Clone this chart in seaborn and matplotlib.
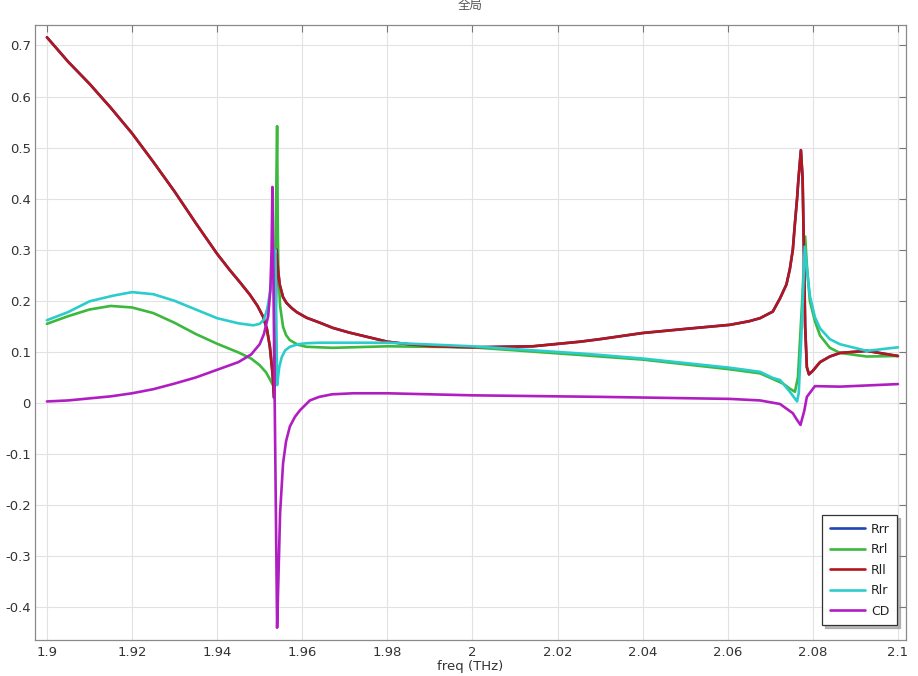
import matplotlib
matplotlib.use("Agg")
import matplotlib.pyplot as plt
from matplotlib.lines import Line2D
import pandas as pd
import seaborn as sns

# ---------------- data ----------------
series_names = ["Rrr", "Rrl", "Rll", "Rlr", "CD"]
series_colors = ["#2443b5", "#3cb83c", "#b3161d", "#2ccccc", "#b01ec2"]

rll_freq = [1.9000, 1.9050, 1.9100, 1.9150, 1.9200, 1.9250, 1.9300, 1.9350, 1.9400, 1.9430,
            1.9454, 1.9477, 1.9495, 1.9508, 1.9517, 1.9524, 1.9530, 1.9534, 1.9540, 1.9543,
            1.9547, 1.9555, 1.9563, 1.9575, 1.9587, 1.9610, 1.9642, 1.9672, 1.9710, 1.9750,
            1.9800, 1.9850, 1.9907, 2.0000, 2.0142, 2.0253, 2.0300, 2.0400, 2.0500, 2.0605,
            2.0650, 2.0676, 2.0706, 2.0723, 2.0738, 2.0746, 2.0753, 2.0758, 2.0763, 2.0766,
            2.0772, 2.0776, 2.0779, 2.0782, 2.0786, 2.0791, 2.0800, 2.0817, 2.0840, 2.0864,
            2.0927, 2.1000]
rll_vals = [0.716, 0.668, 0.625, 0.578, 0.528, 0.472, 0.414, 0.352, 0.292, 0.260,
            0.236, 0.212, 0.190, 0.169, 0.145, 0.110, 0.060, 0.010, 0.300, 0.262,
            0.232, 0.207, 0.196, 0.186, 0.178, 0.167, 0.157, 0.147, 0.138, 0.130,
            0.120, 0.115, 0.111, 0.109, 0.111, 0.120, 0.125, 0.137, 0.145, 0.153,
            0.160, 0.166, 0.179, 0.205, 0.232, 0.262, 0.300, 0.352, 0.400, 0.436,
            0.495, 0.440, 0.300, 0.150, 0.070, 0.056, 0.063, 0.080, 0.091, 0.098,
            0.102, 0.092]

# Rrr is hidden under Rll in the reference (identical curve)
rrr_freq = list(rll_freq)
rrr_vals = list(rll_vals)

rrl_freq = [1.9000, 1.9050, 1.9100, 1.9150, 1.9200, 1.9250, 1.9300, 1.9350, 1.9400, 1.9450,
            1.9480, 1.9500, 1.9515, 1.9525, 1.9533, 1.9541, 1.95425, 1.9544, 1.9548, 1.9555,
            1.9562, 1.9571, 1.9590, 1.9610, 1.9672, 1.9800, 2.0000, 2.0253, 2.0300, 2.0400,
            2.0605, 2.0676, 2.0706, 2.0730, 2.0746, 2.0758, 2.0765, 2.0775, 2.0782, 2.0786,
            2.0793, 2.0805, 2.0817, 2.0840, 2.0864, 2.0927, 2.1000]
rrl_vals = [0.155, 0.170, 0.183, 0.190, 0.187, 0.176, 0.157, 0.135, 0.116, 0.099,
            0.087, 0.074, 0.060, 0.045, 0.032, 0.542, 0.350, 0.260, 0.190, 0.149,
            0.133, 0.123, 0.114, 0.110, 0.108, 0.111, 0.109, 0.094, 0.091, 0.085,
            0.066, 0.058, 0.047, 0.038, 0.028, 0.022, 0.050, 0.200, 0.326, 0.270,
            0.200, 0.160, 0.132, 0.108, 0.098, 0.091, 0.092]

rlr_freq = [1.9000, 1.9050, 1.9100, 1.9155, 1.9200, 1.9250, 1.9300, 1.9350, 1.9400, 1.9450,
            1.9485, 1.9500, 1.9510, 1.9518, 1.9524, 1.9530, 1.9534, 1.9537, 1.9541, 1.9546,
            1.9552, 1.9560, 1.9571, 1.9590, 1.9610, 1.9642, 1.9800, 2.0000, 2.0253, 2.0300,
            2.0400, 2.0605, 2.0676, 2.0706, 2.0723, 2.0746, 2.0763, 2.0767, 2.0774, 2.0781,
            2.0787, 2.0793, 2.0805, 2.0817, 2.0840, 2.0864, 2.0927, 2.1000]
rlr_vals = [0.162, 0.178, 0.199, 0.210, 0.217, 0.213, 0.200, 0.183, 0.166, 0.156,
            0.152, 0.155, 0.163, 0.185, 0.215, 0.255, 0.286, 0.300, 0.035, 0.070,
            0.090, 0.103, 0.110, 0.115, 0.117, 0.118, 0.118, 0.111, 0.097, 0.094,
            0.087, 0.069, 0.061, 0.049, 0.045, 0.022, 0.003, 0.020, 0.150, 0.306,
            0.255, 0.210, 0.168, 0.146, 0.125, 0.115, 0.102, 0.109]

cd_freq = [1.9000, 1.9050, 1.9100, 1.9150, 1.9200, 1.9250, 1.9300, 1.9350, 1.9400, 1.9450,
           1.9480, 1.9500, 1.9510, 1.9520, 1.9525, 1.9528, 1.9530, 1.9541, 1.9544, 1.9548,
           1.9555, 1.9562, 1.9571, 1.9583, 1.9595, 1.9618, 1.9640, 1.9670, 1.9720, 1.9800,
           2.0000, 2.0300, 2.0605, 2.0676, 2.0723, 2.0753, 2.0762, 2.0771, 2.0780, 2.0786,
           2.0805, 2.0864, 2.1000]
cd_vals = [0.003, 0.005, 0.009, 0.013, 0.019, 0.027, 0.038, 0.050, 0.065, 0.080,
           0.095, 0.115, 0.135, 0.170, 0.220, 0.300, 0.423, -0.440, -0.346, -0.216,
           -0.118, -0.075, -0.046, -0.027, -0.014, 0.005, 0.012, 0.017, 0.019, 0.019,
           0.015, 0.012, 0.008, 0.005, -0.002, -0.020, -0.032, -0.043, -0.015, 0.012,
           0.033, 0.032, 0.037]

x_ticks = [1.90, 1.92, 1.94, 1.96, 1.98, 2.00, 2.02, 2.04, 2.06, 2.08, 2.10]
x_tick_labels = ["1.9", "1.92", "1.94", "1.96", "1.98", "2", "2.02", "2.04", "2.06", "2.08", "2.1"]
y_ticks = [-0.4, -0.3, -0.2, -0.1, 0.0, 0.1, 0.2, 0.3, 0.4, 0.5, 0.6, 0.7]
y_tick_labels = ["-0.4", "-0.3", "-0.2", "-0.1", "0", "0.1", "0.2", "0.3", "0.4", "0.5", "0.6", "0.7"]

# ---------------- build table ----------------
frames = []
for name, f, v in [("Rrr", rrr_freq, rrr_vals), ("Rrl", rrl_freq, rrl_vals),
                   ("Rll", rll_freq, rll_vals), ("Rlr", rlr_freq, rlr_vals),
                   ("CD", cd_freq, cd_vals)]:
    frames.append(pd.DataFrame({"freq": f, "value": v, "series": name}))
df = pd.concat(frames, ignore_index=True)

# ---------------- style ----------------
sns.set_theme(style="whitegrid")
plt.rcParams["font.family"] = ["DejaVu Sans", "Noto Sans CJK SC"]

W, H = 918, 676
fig = plt.figure(figsize=(W / 100, H / 100), dpi=100)
fig.patch.set_facecolor("white")
ax_l, ax_r, ax_t, ax_b = 35, 906, 25, 640
ax = fig.add_axes([ax_l / W, 1 - ax_b / H, (ax_r - ax_l) / W, (ax_b - ax_t) / H])
ax.set_facecolor("white")

sns.lineplot(data=df, x="freq", y="value", hue="series", hue_order=series_names,
             palette=dict(zip(series_names, series_colors)), estimator=None, sort=True,
             linewidth=1.9, ax=ax, legend=False)
for ln in ax.lines:
    ln.set_solid_joinstyle("round")
    ln.set_solid_capstyle("round")

ax.set_xlim(1.8972, 2.1019)
ax.set_ylim(-0.464, 0.740)
ax.set_xticks(x_ticks)
ax.set_xticklabels(x_tick_labels)
ax.set_yticks(y_ticks)
ax.set_yticklabels(y_tick_labels)

ax.grid(True, color="#e2e2e2", linewidth=0.8)
ax.set_axisbelow(True)
for sp in ax.spines.values():
    sp.set_visible(True)
    sp.set_color("#8a8a8a")
    sp.set_linewidth(0.9)
ax.tick_params(axis="both", which="major", direction="in", top=True, right=True,
               length=5, width=0.8, color="#777777", labelsize=9.5, labelcolor="#333333")
ax.tick_params(axis="x", pad=4)
ax.tick_params(axis="y", pad=3)

ax.set_xlabel("freq (THz)", fontsize=9.5, color="#333333", labelpad=1)
ax.set_ylabel("")

fig.text(0.5 * (ax_l + ax_r) / W, 1 - 6 / H, "全局", ha="center", va="center",
         fontsize=9, color="#555555", family=["Noto Sans CJK SC", "DejaVu Sans"])

handles = [Line2D([], [], color=c, linewidth=1.9) for c in series_colors]
leg = ax.legend(handles, series_names, loc="lower right", bbox_to_anchor=(0.99, 0.024),
                borderaxespad=0, frameon=True, fancybox=False,
                shadow={"color": "0.55", "alpha": 0.6},
                fontsize=9, handlelength=2.8, labelspacing=0.6, borderpad=0.6,
                handletextpad=0.5)
leg.get_frame().set_edgecolor("#333333")
leg.get_frame().set_linewidth(0.9)
leg.get_frame().set_facecolor("white")
leg.get_frame().set_alpha(1.0)
for t in leg.get_texts():
    t.set_color("#222222")

fig.savefig("out.png", dpi=100, facecolor="white")
